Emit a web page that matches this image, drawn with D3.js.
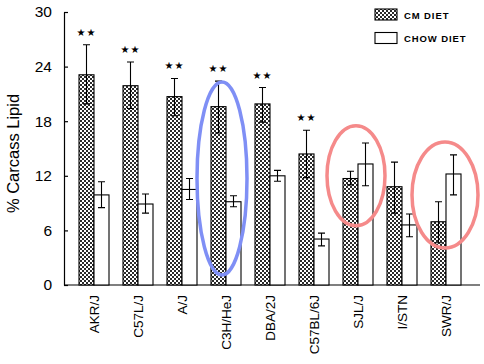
<!DOCTYPE html>
<html><head><meta charset="utf-8">
<script src="https://cdn.jsdelivr.net/npm/d3@7"></script>
<style>body{margin:0;background:#fff}svg{display:block}</style>
</head><body>
<script>
const strains = ["AKR/J","C57L/J","A/J","C3H/HeJ","DBA/2J","C57BL/6J","SJL/J","I/STN","SWR/J"];
const cmMean  = [23.1, 21.9, 20.7, 19.6, 19.9, 14.4, 11.7, 10.8, 6.95];
const cmLow   = [19.9, 19.4, 18.6, 16.7, 17.9, 11.8, 11.0, 7.9, 4.65];
const cmHigh  = [26.4, 24.5, 22.7, 22.4, 21.7, 17.0, 12.5, 13.5, 9.15];
const chowMean= [9.9, 8.9, 10.5, 9.15, 12.0, 5.05, 13.3, 6.6, 12.2];
const chowLow = [8.5, 7.9, 9.4, 8.6, 11.4, 4.3, 10.9, 5.3, 9.9];
const chowHigh= [11.35, 10.0, 11.7, 9.8, 12.6, 5.7, 15.6, 7.8, 14.3];
const significant = [true,true,true,true,true,true,false,false,false];
const yTicks = [0,6,12,18,24,30];
const seriesNames = ["CM DIET","CHOW DIET"];

const W=484,H=364;
const svg=d3.select("body").append("svg").attr("width",W).attr("height",H);
const defs=svg.append("defs");
const pat=defs.append("pattern").attr("id","hatch").attr("patternUnits","userSpaceOnUse").attr("width",4).attr("height",4);
pat.append("rect").attr("width",4).attr("height",4).attr("fill","#fff");
pat.append("rect").attr("x",0).attr("y",0).attr("width",2).attr("height",2).attr("fill","#2a2a2a");
pat.append("rect").attr("x",2).attr("y",2).attr("width",2).attr("height",2).attr("fill","#2a2a2a");

const y=d3.scaleLinear().domain([0,30]).range([285,12]);
const x=d3.scaleBand().domain(strains).range([79,461]).paddingInner(14/44).paddingOuter(0);
const sub=d3.scaleBand().domain(seriesNames).range([0,x.bandwidth()]);
const axX=64;
const font="Liberation Sans, Arial, sans-serif";

// y axis
const yAxis=svg.append("g").attr("transform",`translate(${axX},0)`)
  .call(d3.axisLeft(y).tickValues(yTicks).tickSize(-4).tickPadding(12).tickSizeOuter(0));
yAxis.select(".domain").attr("stroke","#000").attr("stroke-width",1.2);
yAxis.selectAll(".tick line").attr("stroke","#000").attr("stroke-width",1.2);
yAxis.selectAll(".tick text").attr("font-family",font).attr("font-size",15.5).attr("fill","#000");

// x axis line
svg.append("line").attr("x1",axX).attr("x2",480).attr("y1",y(0)).attr("y2",y(0)).attr("stroke","#000").attr("stroke-width",1.2);

// y title
svg.append("text").attr("transform",`translate(19,${(y(0)+y(30))/2+5}) rotate(-90)`)
  .attr("text-anchor","middle").attr("font-family",font).attr("font-size",16.5).text("% Carcass Lipid");

const rows=strains.map((s,i)=>({s,i}));
const g=svg.append("g");
function drawSeries(name,mean,lo,hi,fill){
  const xs=d=>x(d.s)+sub(name);
  g.selectAll(null).data(rows).enter().append("rect")
    .attr("x",xs).attr("width",sub.bandwidth())
    .attr("y",d=>y(mean[d.i])).attr("height",d=>y(0)-y(mean[d.i]))
    .attr("fill",fill).attr("stroke","#000").attr("stroke-width",1.1);
  const cx=d=>xs(d)+sub.bandwidth()/2;
  g.selectAll(null).data(rows).enter().append("path")
    .attr("d",d=>{const c=cx(d),a=y(lo[d.i]),b=y(hi[d.i]);return `M${c},${a}L${c},${b}M${c-3.5},${a}L${c+3.5},${a}M${c-3.5},${b}L${c+3.5},${b}`;})
    .attr("stroke","#000").attr("stroke-width",1.1).attr("fill","none");
}
drawSeries("CM DIET",cmMean,cmLow,cmHigh,"url(#hatch)");
drawSeries("CHOW DIET",chowMean,chowLow,chowHigh,"#fff");

// significance stars
g.selectAll(null).data(rows.filter(d=>significant[d.i])).enter().append("text")
  .attr("x",d=>x(d.s)+sub("CM DIET")+sub.bandwidth()/2)
  .attr("y",d=>y(cmHigh[d.i])-9)
  .attr("text-anchor","middle").attr("font-family","DejaVu Sans, sans-serif").attr("font-size",10)
  .attr("letter-spacing",1).text("★★");

// x labels
svg.selectAll(null).data(strains).enter().append("text")
  .attr("transform",d=>`translate(${x(d)+x.bandwidth()/2},295) rotate(-90)`)
  .attr("text-anchor","end").attr("dy","0.35em")
  .attr("font-family",font).attr("font-size",13.5).text(d=>d);

// legend
const leg=svg.append("g");
seriesNames.forEach((n,i)=>{
  const ly=9+i*23.5;
  leg.append("rect").attr("x",375).attr("y",ly).attr("width",22).attr("height",11)
    .attr("fill",i===0?"url(#hatch)":"#fff").attr("stroke","#000").attr("stroke-width",1.1);
  leg.append("text").attr("x",404).attr("y",ly+9.5).attr("font-family",font)
    .attr("font-size",9.5).attr("font-weight","bold").attr("letter-spacing",0.9).text(n);
});

// highlight ellipses
const ell=[{cx:222,cy:178.5,rx:25,ry:96.5,c:"#7f8ff5"},{cx:356,cy:175.7,rx:29,ry:50,c:"#f58a8a"},{cx:445,cy:195,rx:33,ry:53,c:"#f58a8a"}];
svg.selectAll(null).data(ell).enter().append("ellipse")
  .attr("cx",d=>d.cx).attr("cy",d=>d.cy).attr("rx",d=>d.rx).attr("ry",d=>d.ry)
  .attr("fill","none").attr("stroke",d=>d.c).attr("stroke-width",3.5);
</script>
</body></html>
